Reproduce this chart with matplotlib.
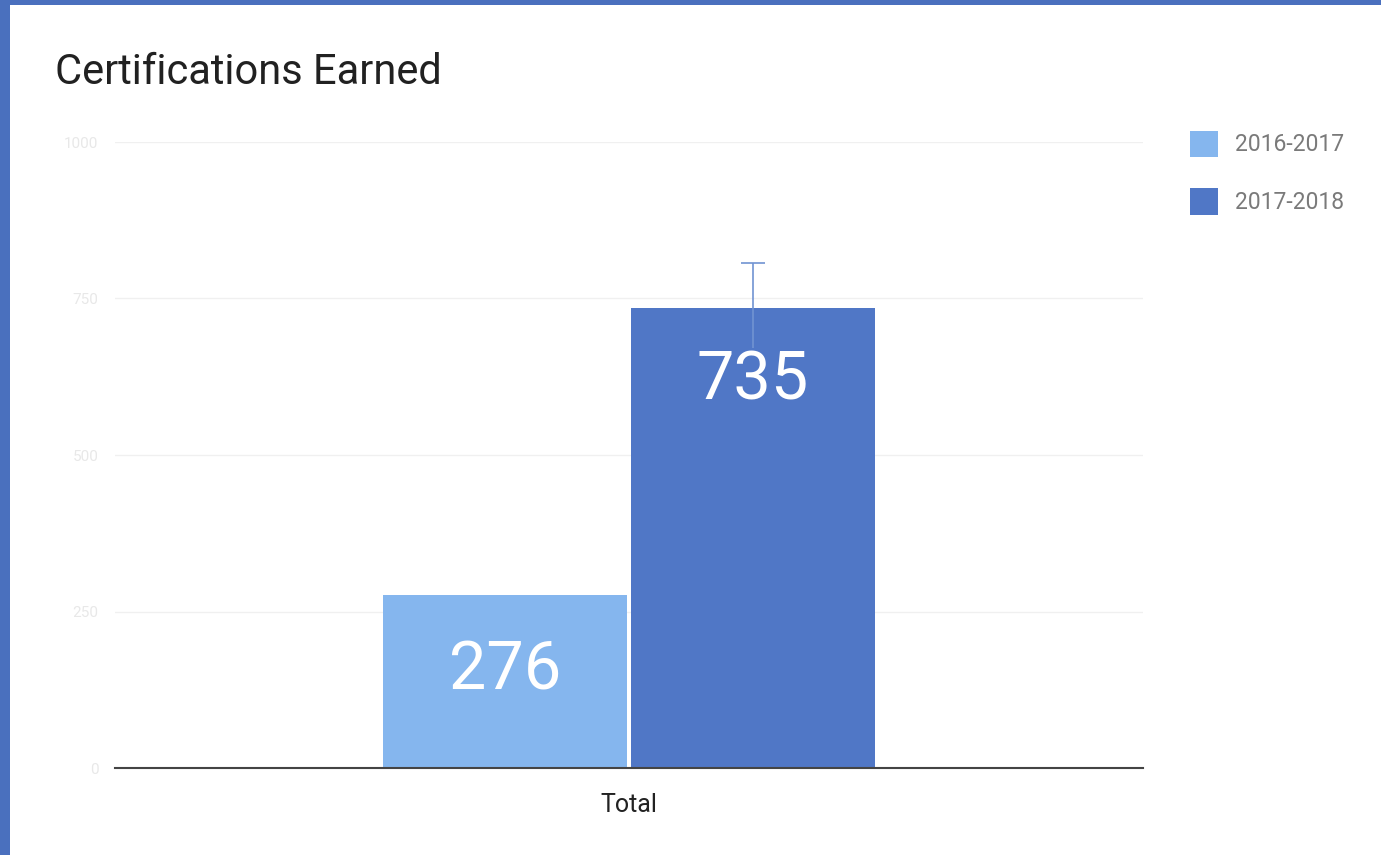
import matplotlib.pyplot as plt
from matplotlib.patches import Rectangle

# Datos
categorias = ["Total"]
series = ["2016-2017", "2017-2018"]
valores_2016 = [276]
valores_2018 = [735]
err_bajo_2018 = [64]
err_alto_2018 = [72]
ticks_y = [0, 250, 500, 750, 1000]

colores = ["#85B6EE", "#5077C6"]
color_marco = "#4A70BE"

plt.rcParams['font.family'] = ['Roboto', 'DejaVu Sans']

fig = plt.figure(figsize=(13.81, 8.55), dpi=100)
fig.patch.set_facecolor(color_marco)
# tarjeta blanca dentro del marco azul
fig.patches.append(Rectangle((10 / 1381, 0), 1 - 10 / 1381, 1 - 5 / 855,
                             transform=fig.transFigure, facecolor="white",
                             edgecolor="none", zorder=-10))

ax = fig.add_axes([115 / 1381, 1 - 768 / 855, 1028 / 1381, 626 / 855])
ax.set_facecolor("none")

x = list(range(len(categorias)))
ancho = 0.237
off = 0.1205

b1 = ax.bar([i - off for i in x], valores_2016, width=ancho, color=colores[0],
            label=series[0], zorder=2)
b2 = ax.bar([i + off for i in x], valores_2018, width=ancho, color=colores[1],
            label=series[1], zorder=2)

# barra de error (la parte de abajo queda tapada por el numero)
for i in x:
    xc = i + off
    ax.vlines(xc, valores_2018[i] - err_bajo_2018[i], valores_2018[i] + err_alto_2018[i],
              color="#7193D2", linewidth=1.2, zorder=3)
    ax.hlines(valores_2018[i] + err_alto_2018[i], xc - 0.012, xc + 0.012,
              color="#7193D2", linewidth=1.2, zorder=3)

# etiquetas dentro de las barras
for i in x:
    ax.text(i - off, valores_2016[i] - 71, str(valores_2016[i]), ha="center", va="top",
            color="white", fontsize=48, zorder=4)
    ax.text(i + off, valores_2018[i] - 66, str(valores_2018[i]), ha="center", va="top",
            color="white", fontsize=48, zorder=4)

ax.set_xlim(-0.5, 0.5)
ax.set_ylim(0, 1000)
ax.set_yticks(ticks_y)
ax.set_yticklabels([str(t) for t in ticks_y], color="#E8E8E8", fontsize=11)
ax.set_xticks(x)
ax.set_xticklabels(categorias, fontsize=18, color="#222222")
ax.tick_params(axis="both", length=0)
ax.tick_params(axis="x", pad=18)
ax.tick_params(axis="y", pad=12)

ax.grid(axis="y", color="#F0F0F0", linewidth=1, zorder=0)
for s in ["top", "right", "left"]:
    ax.spines[s].set_visible(False)
ax.spines["bottom"].set_color("#444444")
ax.spines["bottom"].set_linewidth(1.5)
ax.spines["bottom"].set_zorder(5)

fig.text(55 / 1381, 1 - 73 / 855, "Certifications Earned", fontsize=30,
         color="#212121", va="center", ha="left")

leg = fig.legend(handles=[b1, b2], labels=series, loc="upper left",
                 bbox_to_anchor=(1169 / 1381, 1 - 110 / 855), frameon=False,
                 fontsize=16.5, labelcolor="#7A7A7A", handlelength=1.25,
                 handleheight=1.4, labelspacing=1.35, handletextpad=0.75)

fig.savefig("out.png", dpi=100, facecolor=fig.get_facecolor())
